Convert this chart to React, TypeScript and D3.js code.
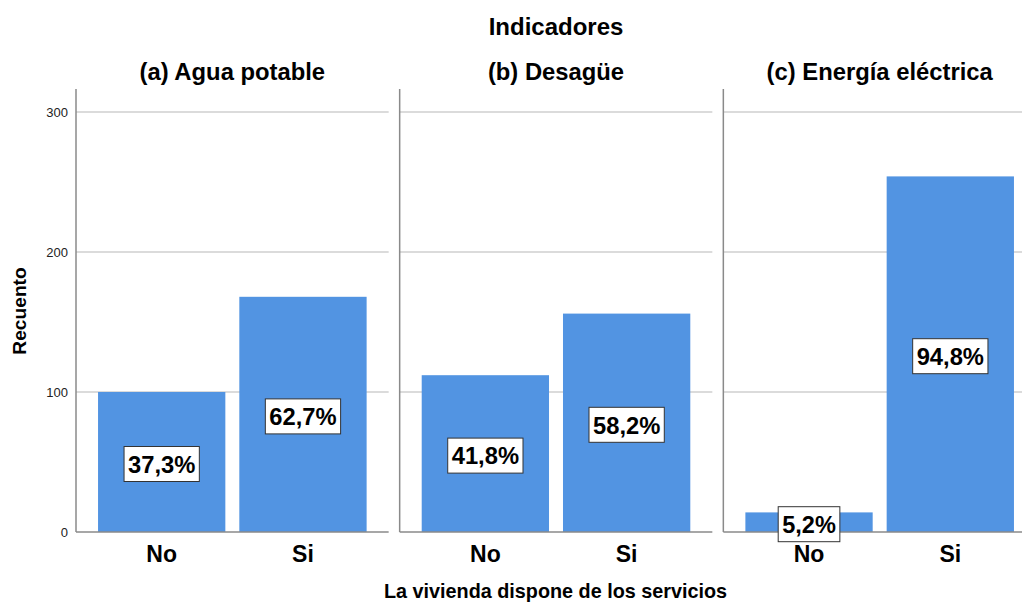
import React from "react";
import * as d3 from "d3";

const indicators = ["(a) Agua potable", "(b) Desagüe", "(c) Energía eléctrica"];
const categories = ["No", "Si"];
const aguaCounts = [100, 168];
const desagueCounts = [112, 156];
const energiaCounts = [14, 254];
const yTicks = [0, 100, 200, 300];
const chartTitle = "Indicadores";
const xTitle = "La vivienda dispone de los servicios";
const yTitle = "Recuento";

const seriesByIndicator = [aguaCounts, desagueCounts, energiaCounts];

const W = 1022;
const H = 603;
const FONT = "'Liberation Sans', Arial, sans-serif";
const BAR = "#5294e2";

const pctFmt = d3.formatLocale({ decimal: ",", thousands: ".", grouping: [3], currency: ["", ""] }).format(".1f");

export default function App() {
  const panelX = d3.scaleBand<string>().domain(indicators).range([76, 1036]).paddingInner(0.034);
  const pw = panelX.bandwidth();
  const inner = d3.scaleBand<string>().domain(categories).range([0, pw]).paddingInner(0.099).paddingOuter(0.156);
  const y = d3.scaleLinear().domain([0, 300]).range([532, 112]);
  const yTop = y(316.5);
  const y0 = y(0);

  return (
    <svg width={W} height={H} style={{ position: "absolute", left: 0, top: 0, background: "#fff" }} fontFamily={FONT}>
      <rect x={0} y={0} width={W} height={H} fill="#fff" />
      <text x={(panelX(indicators[0]) as number + (panelX(indicators[2]) as number) + pw) / 2} y={35} textAnchor="middle" fontSize={24} fontWeight="bold" fill="#000">
        {chartTitle}
      </text>
      {indicators.map((ind, i) => {
        const px = panelX(ind) as number;
        const vals = seriesByIndicator[i];
        const total = d3.sum(vals);
        return (
          <g key={ind}>
            <text x={px + pw / 2} y={79.5} textAnchor="middle" fontSize={23.8} fontWeight="bold" fill="#000">
              {ind}
            </text>
            {yTicks.filter((t) => t > 0).map((t) => (
              <line key={t} x1={px} x2={px + pw} y1={y(t)} y2={y(t)} stroke="#cfcfcf" strokeWidth={1.5} />
            ))}
            {categories.map((c, j) => {
              const bx = px + (inner(c) as number);
              const by = y(vals[j]);
              return (
                <rect key={c} x={bx} y={by} width={inner.bandwidth()} height={y0 - by} fill={BAR} />
              );
            })}
            <line x1={px} x2={px} y1={yTop} y2={y0} stroke="#8a8a8a" strokeWidth={1.5} />
            <line x1={px} x2={px + pw} y1={y0} y2={y0} stroke="#8a8a8a" strokeWidth={1.5} />
            {categories.map((c, j) => {
              const cx = px + (inner(c) as number) + inner.bandwidth() / 2;
              const label = pctFmt((vals[j] / total) * 100) + "%";
              const nDigits = label.replace(/[^0-9]/g, "").length;
              const tl = 24.5 * (0.556 * nDigits + 0.278 + 0.8);
              const cy = (y(vals[j]) + y0) / 2 + 2;
              const bw = tl + 8;
              const bh = 35;
              return (
                <g key={c}>
                  <rect x={cx - bw / 2} y={cy - bh / 2} width={bw} height={bh} fill="#fff" stroke="#333" strokeWidth={1} />
                  <text x={cx} y={cy + 8.8} textAnchor="middle" fontSize={24.5} fontWeight="bold" fill="#000" textLength={tl} lengthAdjust="spacingAndGlyphs">
                    {label}
                  </text>
                  <text x={cx} y={562} textAnchor="middle" fontSize={23} fontWeight="bold" fill="#000">
                    {c}
                  </text>
                </g>
              );
            })}
          </g>
        );
      })}
      {yTicks.map((t) => (
        <text key={t} x={68} y={y(t)} dy="0.35em" textAnchor="end" fontSize={13} fill="#222">
          {t}
        </text>
      ))}
      <text transform={`translate(25.5,311) rotate(-90)`} textAnchor="middle" fontSize={19.2} fontWeight="bold" fill="#000">
        {yTitle}
      </text>
      <text x={555.5} y={598} textAnchor="middle" fontSize={19.8} fontWeight="bold" fill="#000">
        {xTitle}
      </text>
    </svg>
  );
}
